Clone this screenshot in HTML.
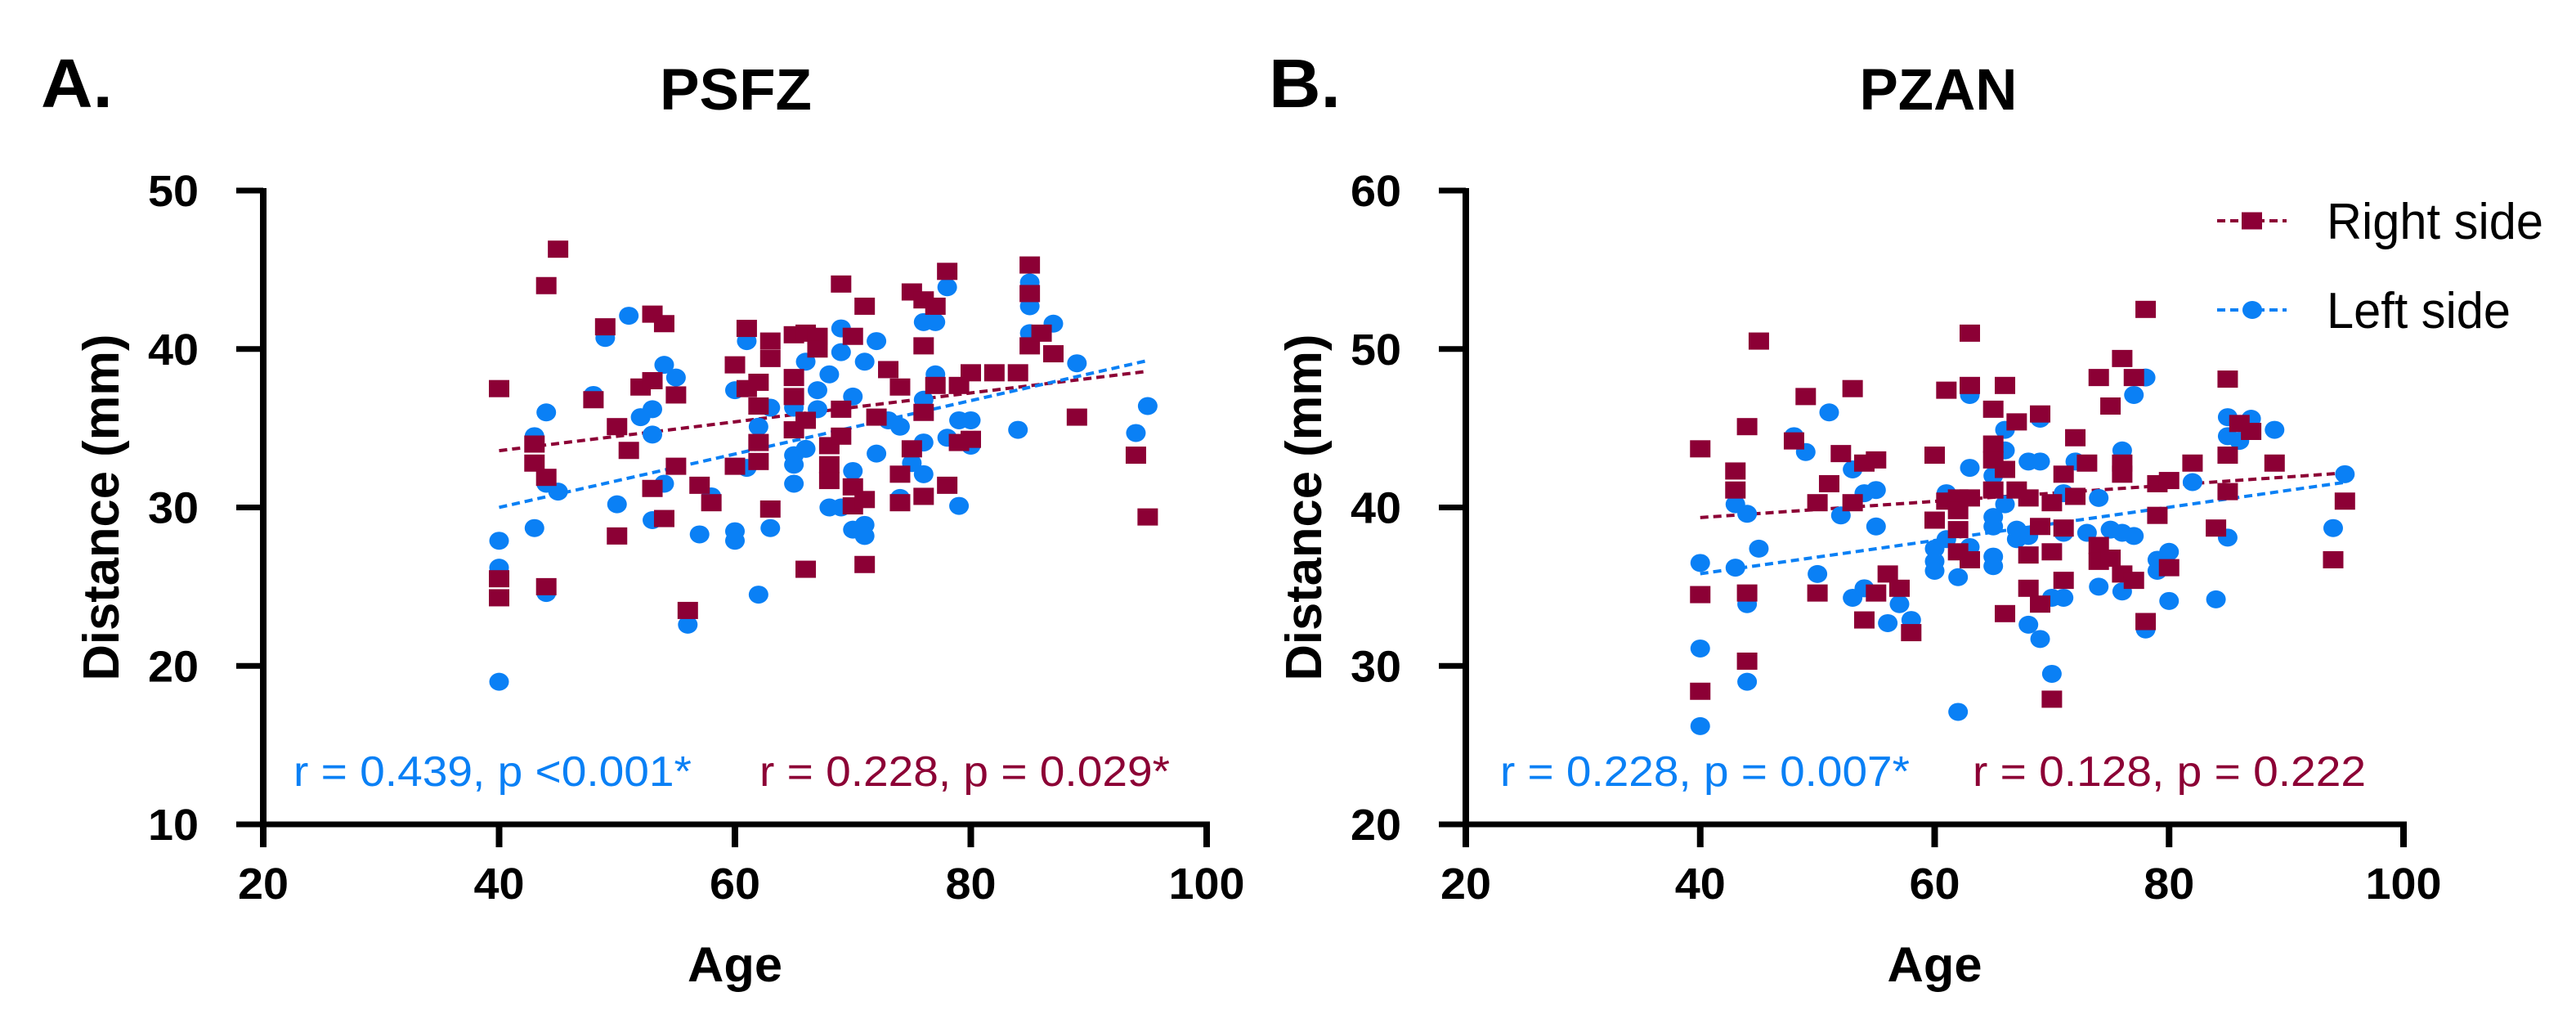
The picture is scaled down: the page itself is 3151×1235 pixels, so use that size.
<!DOCTYPE html>
<html><head><meta charset="utf-8">
<style>
html,body{margin:0;padding:0;background:#fff;overflow:hidden;}
svg{display:block;font-family:"Liberation Sans",Arial,sans-serif;}
</style></head>
<body>
<svg id="chart" width="3151" height="1235" viewBox="0 0 3151 1235" xmlns="http://www.w3.org/2000/svg">
<g id="root"></g>
</svg>
<script>
// ---- Data ----
const xTicks = [20, 40, 60, 80, 100];
const yTicksA = [10, 20, 30, 40, 50];
const yTicksB = [20, 30, 40, 50, 60];

const aRightAge = [40,40,40,43,43,44,44,44,45,48,49,50,50,51,52,53,53,53,54,54,55,55,56,57,58,60,60,61,61,62,62,62,62,63,63,63,65,65,65,65,66,66,66,67,67,68,68,68,69,69,69,70,70,70,71,71,71,72,73,74,74,74,75,75,76,76,76,76,77,77,78,78,79,79,80,80,82,84,85,85,85,86,87,89,94,95];
const aRightVal = [37.5,25.5,24.3,34,32.8,44,31.9,25,46.3,36.8,41.4,35.1,28.2,33.6,37.6,42.2,38,31.2,41.6,29.3,37.1,32.6,23.5,31.4,30.3,39,32.6,41.3,37.5,37.9,36.4,34.1,32.9,40.5,39.4,29.9,40.9,38.2,37,34.9,41,35.5,26.1,40.8,40,33.9,32.7,31.7,44.1,36.2,34.5,40.8,31.3,30.1,42.7,30.5,26.4,35.7,38.7,37.6,32.1,30.3,43.6,33.7,43.1,40.2,36,30.7,42.7,37.7,44.9,31.4,37.7,34.1,38.5,34.3,38.5,38.5,45.3,43.5,40.2,41,39.7,35.7,33.3,29.4];
const aLeftAge = [40,40,40,43,43,44,44,44,45,48,49,50,51,52,53,53,53,54,54,55,56,57,58,60,60,60,61,61,62,62,63,63,65,65,65,65,66,66,67,67,68,68,69,69,69,70,70,70,71,71,71,72,72,73,74,74,75,76,76,76,76,77,77,78,78,79,79,80,80,84,85,85,85,87,89,94,95];
const aLeftVal = [27.9,26.2,19,34.5,28.7,36,31.5,24.6,31,37.1,40.7,30.2,42.1,35.7,36.2,34.6,29.2,39,31.5,38.2,22.6,28.3,30.7,37.4,28.5,27.9,40.5,32.5,35.1,24.5,36.3,28.7,36.3,33.3,32.7,31.5,39.2,33.7,37.4,36.2,38.4,30,41.3,39.8,30,37,32.3,28.6,39.2,28.9,28.2,40.5,33.4,35.5,35.1,30.6,32.8,41.7,36.8,34.1,32.1,41.7,38.4,43.9,34.4,35.5,30.1,35.5,33.9,34.9,44.2,42.7,41,41.6,39.1,34.7,36.4];

const bRightAge = [40,40,40,43,43,44,44,44,45,48,49,50,50,51,52,53,53,54,54,55,55,56,57,58,60,60,61,61,62,62,62,62,63,63,63,63,65,65,65,65,66,66,66,67,67,68,68,68,69,69,69,70,70,70,71,71,71,72,72,73,74,74,74,75,75,76,76,76,76,77,77,78,78,79,79,80,80,82,84,85,85,85,86,87,89,94,95];
const bRightVal = [43.7,34.5,28.4,42.3,41.1,45.1,34.6,30.3,50.5,44.2,47,40.3,34.6,41.5,43.4,47.5,40.3,42.8,32.9,43,34.6,35.8,34.9,32.1,43.3,39.2,47.4,40.4,40.6,39.8,38.6,37.2,51,47.7,40.6,36.7,46.2,44,43,41.1,47.7,42.4,33.3,45.4,41.1,40.6,37,34.9,45.9,38.8,33.9,40.3,37.2,27.9,42.1,38.7,35.4,44.4,40.7,42.8,48.2,37.6,36.6,46.4,36.8,49.4,42.8,42.1,35.8,48.2,35.4,52.5,32.8,41.5,39.5,41.7,36.2,42.8,38.7,48.1,43.3,41,45.3,44.8,42.8,36.7,40.4];
const bLeftAge = [40,40,40,43,43,44,44,44,45,48,49,50,51,52,53,53,54,54,55,55,56,57,58,60,60,60,61,61,62,62,63,63,63,65,65,65,65,65,66,66,66,67,67,68,68,68,69,69,69,70,70,71,71,71,72,73,74,74,75,76,76,76,77,77,78,78,79,79,80,80,82,84,85,85,85,86,87,89,94,95];
const bLeftVal = [36.5,31.1,26.2,40.2,36.2,39.6,33.9,29,37.4,44.5,43.5,35.8,46,39.5,42.4,34.3,40.9,34.9,41.1,38.8,32.7,33.9,32.9,37.4,36.6,36,40.9,38,35.6,27.1,47.1,42.5,37.5,42,39.4,38.8,36.9,36.3,44.9,43.6,40.2,38.6,38,42.9,38.2,32.6,45.6,42.9,31.7,34.3,29.5,40.9,38.4,34.3,42.9,38.4,40.6,35,38.6,43.6,38.4,34.7,47.1,38.2,48.2,32.3,36.7,36,37.2,34.1,41.6,34.2,45.7,44.5,38.1,44.2,45.6,44.9,38.7,42.1];

const RED = "#8c0035", BLUE = "#0a80f5";
const NS = "http://www.w3.org/2000/svg";
const root = document.getElementById('root');

function el(tag, attrs, parent, text) {
  const e = document.createElementNS(NS, tag);
  for (const k in attrs) e.setAttribute(k, attrs[k]);
  if (text !== undefined) e.textContent = text;
  (parent || root).appendChild(e);
  return e;
}
function fit(x, y) {
  const n = x.length; let mx = 0, my = 0;
  for (let i = 0; i < n; i++) { mx += x[i]; my += y[i]; }
  mx /= n; my /= n; let sxy = 0, sxx = 0;
  for (let i = 0; i < n; i++) { sxy += (x[i]-mx)*(y[i]-my); sxx += (x[i]-mx)**2; }
  const b = sxy / sxx; return [my - b*mx, b];
}

function panel(cfg) {
  const g = el('g', {});
  
  
  const X = v => cfg.x0 + (v - 20) / 80 * (cfg.x1 - cfg.x0);
  const Y = v => cfg.yb - (v - cfg.ymin) / (cfg.ymax - cfg.ymin) * (cfg.yb - cfg.yt);

  const ya = el('line', {x1: cfg.x0, y1: cfg.yt - 3, x2: cfg.x0, y2: cfg.yb + 3, stroke: '#000', 'stroke-width': 8}, g);
  
  
  const xa = el('line', {x1: cfg.x0 - 4, y1: cfg.yb, x2: cfg.x1 + 4, y2: cfg.yb, stroke: '#000', 'stroke-width': 7}, g);
  
  

  cfg.yTicks.forEach(t => {
    const yy = Y(t);
    const tk = el('line', {x1: cfg.x0 - 33, y1: yy, x2: cfg.x0, y2: yy, stroke: '#000', 'stroke-width': 7}, g);
    
    
    const lb = el('text', {x: cfg.x0 - 79, y: yy + 19, 'text-anchor': 'end', 'font-size': 54, 'font-weight': 'bold', textLength: String(t).length * 31, lengthAdjust: 'spacingAndGlyphs'}, g, String(t));
    
    
  });
  xTicks.forEach(t => {
    const xx = X(t);
    const tk = el('line', {x1: xx, y1: cfg.yb, x2: xx, y2: cfg.yb + 28, stroke: '#000', 'stroke-width': 8}, g);
    
    
    const lb = el('text', {x: xx, y: 1099, 'text-anchor': 'middle', 'font-size': 54, 'font-weight': 'bold', textLength: String(t).length * 31, lengthAdjust: 'spacingAndGlyphs'}, g, String(t));
    
    
  });

  const yt = el('text', {x: 0, y: 0, transform: `translate(${cfg.x0 - 177},${(cfg.yt + cfg.yb)/2}) rotate(-90)`, 'text-anchor': 'middle', 'font-size': 62, 'font-weight': 'bold', textLength: 424, lengthAdjust: 'spacingAndGlyphs'}, g, 'Distance (mm)');
  
  
  const xt = el('text', {x: (cfg.x0 + cfg.x1)/2, y: 1200, 'text-anchor': 'middle', 'font-size': 60, 'font-weight': 'bold', textLength: 116, lengthAdjust: 'spacingAndGlyphs'}, g, 'Age');
  
  
  const tt = el('text', {x: cfg.titleX, y: 134, 'text-anchor': 'middle', 'font-size': 71, 'font-weight': 'bold', textLength: cfg.titleW, lengthAdjust: 'spacingAndGlyphs'}, g, cfg.title);
  
  
  const pl = el('text', {x: cfg.letterX, y: 131, 'font-size': 84, 'font-weight': 'bold', textLength: 88, lengthAdjust: 'spacingAndGlyphs'}, g, cfg.letter);
  
  

  const fr = fit(cfg.rAge, cfg.rVal), fl = fit(cfg.lAge, cfg.lVal);
  const lr = el('line', {x1: X(40), y1: Y(fr[0] + fr[1]*40), x2: X(95), y2: Y(fr[0] + fr[1]*95), stroke: RED, 'stroke-width': 4, 'stroke-dasharray': '10 6'}, g);
  
  
  const ll = el('line', {x1: X(40), y1: Y(fl[0] + fl[1]*40), x2: X(95), y2: Y(fl[0] + fl[1]*95), stroke: BLUE, 'stroke-width': 4, 'stroke-dasharray': '10 6'}, g);
  
  

  cfg.lAge.forEach((a, i) => {
    const c = el('ellipse', {cx: X(a), cy: Y(cfg.lVal[i]), rx: 12, ry: 11, fill: BLUE}, g);
    
    
  });
  cfg.rAge.forEach((a, i) => {
    const s = el('rect', {x: X(a) - 12.5, y: Y(cfg.rVal[i]) - 10.5, width: 25, height: 21, fill: RED}, g);
    
    
  });

  const ab = el('text', {x: cfg.annB[0], y: 961, 'font-size': 52, fill: BLUE, textLength: cfg.annB[1], lengthAdjust: 'spacingAndGlyphs'}, g, cfg.annB[2]);
  
  
  const ar = el('text', {x: cfg.annR[0], y: 961, 'font-size': 52, fill: RED, textLength: cfg.annR[1], lengthAdjust: 'spacingAndGlyphs'}, g, cfg.annR[2]);
  
  
}

panel({name: 'panel-a-psfz', x0: 322, x1: 1476, yt: 233, yb: 1008, ymin: 10, ymax: 50, yTicks: yTicksA,
  rAge: aRightAge, rVal: aRightVal, lAge: aLeftAge, lVal: aLeftVal,
  title: 'PSFZ', titleX: 900, titleW: 186, letter: 'A.', letterX: 50,
  annB: [359, 487, 'r = 0.439, p <0.001*'], annR: [929, 502, 'r = 0.228, p = 0.029*']});
panel({name: 'panel-b-pzan', x0: 1793, x1: 2940, yt: 233, yb: 1008, ymin: 20, ymax: 60, yTicks: yTicksB,
  rAge: bRightAge, rVal: bRightVal, lAge: bLeftAge, lVal: bLeftVal,
  title: 'PZAN', titleX: 2371, titleW: 193, letter: 'B.', letterX: 1552,
  annB: [1835, 501, 'r = 0.228, p = 0.007*'], annR: [2413, 481, 'r = 0.128, p = 0.222']});

const lg = el('g', {});


const l1 = el('line', {x1: 2712, y1: 270, x2: 2797, y2: 270, stroke: RED, 'stroke-width': 4, 'stroke-dasharray': '10 6'}, lg);


const m1 = el('rect', {x: 2742, y: 259.5, width: 25, height: 21, fill: RED}, lg);


const t1 = el('text', {x: 2846, y: 292, 'font-size': 62, textLength: 265, lengthAdjust: 'spacingAndGlyphs'}, lg, 'Right side');


const l2 = el('line', {x1: 2712, y1: 379, x2: 2797, y2: 379, stroke: BLUE, 'stroke-width': 4, 'stroke-dasharray': '10 6'}, lg);


const m2 = el('ellipse', {cx: 2755, cy: 379, rx: 12, ry: 11, fill: BLUE}, lg);


const t2 = el('text', {x: 2846, y: 401, 'font-size': 62, textLength: 225, lengthAdjust: 'spacingAndGlyphs'}, lg, 'Left side');


</script>
</body></html>
